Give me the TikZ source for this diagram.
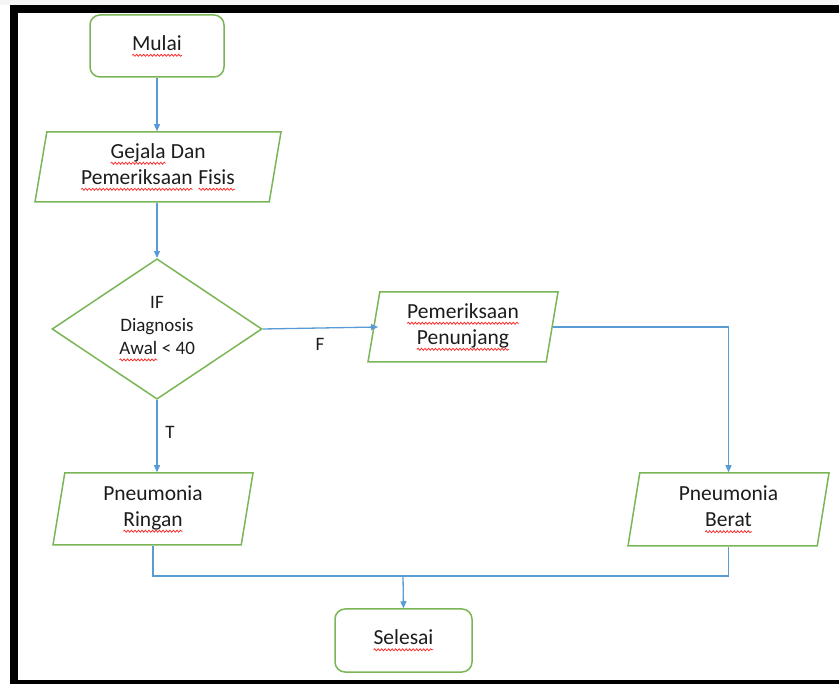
\documentclass[tikz,border=0pt]{standalone}
\usepackage{fontspec}
\setmainfont{Carlito}
\usetikzlibrary{arrows.meta}
\usetikzlibrary{shapes.geometric}
\usetikzlibrary{decorations.pathmorphing}
\definecolor{mgreen}{RGB}{122,182,86}
\definecolor{mblue}{RGB}{91,155,213}
\definecolor{mtext}{RGB}{28,28,28}
\newcommand{\spell}[1]{\tikz[baseline=(w.base)]{%
    \node [shape=rectangle, draw=none, fill=none, inner sep=0pt, outer sep=0pt,
           minimum width=0pt, minimum height=0pt, anchor=base, text=mtext] (w) {#1};
    \draw [red!85!white, line width=0.75pt, sharp corners, decorate,
           decoration={snake, amplitude=1pt, segment length=3.5pt}]
          ([yshift=-5pt]w.base west) -- ([yshift=-5pt]w.base east);}}
\tikzset{terminal/.style = {draw=mgreen, line width=1.5pt, rounded corners=10pt,
                            minimum width=134pt, minimum height=62pt, text=mtext,
                            font=\fontsize{21.5}{26}\selectfont},
         io/.style = {trapezium, trapezium left angle=76, trapezium right angle=104,
                      trapezium stretches body, draw=mgreen, line width=1.5pt,
                      align=center, inner sep=0pt, text=mtext,
                      font=\fontsize{21.5}{26}\selectfont},
         decision/.style = {diamond, draw=mgreen, line width=1.5pt, align=center,
                            inner sep=0pt, minimum width=210pt, minimum height=138pt,
                            text=mtext, font=\fontsize{19}{23}\selectfont},
         flow/.style = {draw=mblue, line width=1.3pt},
         tag/.style = {text=mtext, font=\fontsize{19}{23}\selectfont},
         >={Triangle[length=7pt,width=6pt]}}

\begin{document}
\begin{tikzpicture}[x=1pt, y=-1pt]
    \useasboundingbox (0,0) rectangle (839,684);

    % frame
    \fill [gray!8] (0,0) rectangle (839,5);
    \fill [black] (10,5) rectangle (839,13);
    \fill [black] (10,5) rectangle (18,684);
    \fill [black] (10,680) rectangle (839,684);

    \node [terminal] (mulai) at (157,46) {\spell{Mulai}};
    \node [io, minimum width=246pt, minimum height=70pt] (gejala) at (158,167)
        {\spell{Gejala} Dan\\\spell{Pemeriksaan} \spell{Fisis}};
    \node [decision] (diag) at (157,329) {IF\\Diagnosis\\\spell{Awal} < 40};
    \node [io, minimum width=190pt, minimum height=70pt] (penunjang) at (463,327)
        {\spell{Pemeriksaan}\\\spell{Penunjang}};
    \node [io, minimum width=200pt, minimum height=72pt] (ringan) at (153,509)
        {Pneumonia\\\spell{Ringan}};
    \node [io, minimum width=201pt, minimum height=73pt] (berat) at (728.5,509.5)
        {Pneumonia\\\spell{Berat}};
    \node [terminal, minimum width=137pt, minimum height=63pt] (selesai) at (403.5,640.5)
        {\spell{Selesai}};

    \node [tag] (t) at (170,432) {T};
    \node [tag] (f) at (320,344) {F};

    \coordinate (merge) at (403,576);

    \draw [flow, ->] (mulai.south) -- (mulai.south |- gejala.north);
    \draw [flow, ->] (gejala.south -| diag.north) -- (diag.north);
    \draw [flow, ->] (diag.east) -- ([xshift=5pt]penunjang.west);
    \draw [flow, ->] (penunjang.east) -- (penunjang.east -| berat.north) -- (berat.north);
    \draw [flow, ->] (diag.south) -- (diag.south |- ringan.north);
    \draw [flow] (ringan.south) -- (ringan.south |- merge) -- (berat.south |- merge) -- (berat.south);
    \draw [flow, ->] (merge) -- (selesai.north);
\end{tikzpicture}
\end{document}
